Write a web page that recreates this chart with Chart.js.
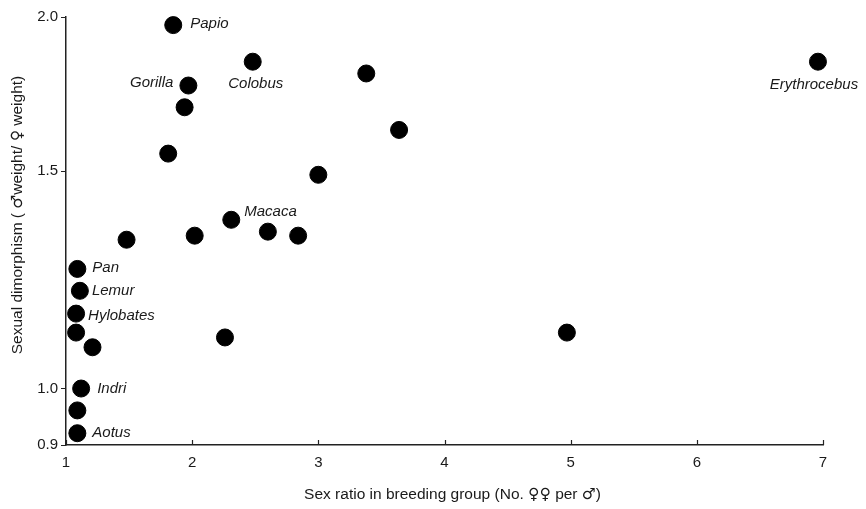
<!DOCTYPE html>
<html>
<head>
<meta charset="utf-8">
<script src="https://cdn.jsdelivr.net/npm/chart.js@4.4.1/dist/chart.umd.min.js"></script>
<style>
  html, body { margin: 0; padding: 0; background: #fff; }
  #wrap { width: 866px; height: 509px; }
</style>
</head>
<body>
<div id="wrap"><canvas id="chart"></canvas></div>
<script>
// one entry per genus / population, '' where the figure prints no name
const genus = ["Papio", "Colobus", "Gorilla", "", "", "", "", "", "Erythrocebus",
  "Macaca", "", "", "", "", "Pan", "Lemur", "Hylobates", "", "", "", "", "Indri", "", "Aotus"];
const sexRatio = [1.85, 2.48, 1.97, 1.94, 1.81, 3.38, 3.64, 3.00, 6.96,
  2.31, 2.60, 2.84, 2.02, 1.48, 1.09, 1.11, 1.08, 1.08, 1.21, 2.26, 4.97, 1.12, 1.09, 1.09];
const dimorphism = [1.97, 1.84, 1.76, 1.69, 1.55, 1.80, 1.62, 1.49, 1.84,
  1.37, 1.34, 1.33, 1.33, 1.32, 1.25, 1.20, 1.15, 1.11, 1.08, 1.10, 1.11, 1.00, 0.96, 0.92];

const xTicks = [1, 2, 3, 4, 5, 6, 7];
const yTicks = [0.9, 1.0, 1.5, 2.0];

const FONT = '"Liberation Sans", Arial, Helvetica, sans-serif';
const SYM = '"DejaVu Sans", sans-serif';
const TEXT = "#1a1a1a";

// axis titles, split so the sex symbols can come from a font that draws them full size
const xTitle = [["Sex ratio in breeding group (No. ", FONT], ["\u2640\u2640", SYM], [" per ", FONT], ["\u2642", SYM], [")", FONT]];
const yTitle = [["Sexual dimorphism ( ", FONT], ["\u2642", SYM], ["weight/ ", FONT], ["\u2640", SYM], [" weight)", FONT]];

// where each name sits relative to its dot
const placement = {
  Papio:        { align: "left",   dx: 17,  dy: -1 },
  Colobus:      { align: "center", dx: 3,   dy: 22 },
  Gorilla:      { align: "right",  dx: -15, dy: -3 },
  Erythrocebus: { align: "center", dx: -4,  dy: 23 },
  Macaca:       { align: "left",   dx: 13,  dy: -8 },
  Pan:          { align: "left",   dx: 15,  dy: -1 },
  Lemur:        { align: "left",   dx: 12,  dy: 0 },
  Hylobates:    { align: "left",   dx: 12,  dy: 2 },
  Indri:        { align: "left",   dx: 16,  dy: 0 },
  Aotus:        { align: "left",   dx: 15,  dy: 0 }
};

const genusLabels = {
  id: "genusLabels",
  afterDatasetsDraw(chart) {
    const ctx = chart.ctx;
    const meta = chart.getDatasetMeta(0);
    ctx.save();
    ctx.font = "italic 15px " + FONT;
    ctx.fillStyle = TEXT;
    ctx.textBaseline = "middle";
    meta.data.forEach((pt, i) => {
      const name = genus[i];
      if (!name) return;
      const p = placement[name];
      ctx.textAlign = p.align;
      ctx.fillText(name, pt.x + p.dx, pt.y + p.dy);
    });
    ctx.restore();
  }
};

function drawParts(ctx, parts, size, cx, cy) {
  let total = 0;
  parts.forEach(([t, f]) => { ctx.font = size + "px " + f; total += ctx.measureText(t).width; });
  let x = cx - total / 2;
  parts.forEach(([t, f]) => {
    ctx.font = size + "px " + f;
    ctx.fillText(t, x, cy);
    x += ctx.measureText(t).width;
  });
}

const axisTitles = {
  id: "axisTitles",
  afterDraw(chart) {
    const ctx = chart.ctx;
    const area = chart.chartArea;
    ctx.save();
    ctx.fillStyle = TEXT;
    ctx.textAlign = "left";
    ctx.textBaseline = "middle";
    drawParts(ctx, xTitle, 15.5, (area.left + area.right) / 2 + 8, 495);
    ctx.translate(18, (area.top + area.bottom) / 2 - 16);
    ctx.rotate(-Math.PI / 2);
    drawParts(ctx, yTitle, 15.5, 0, 0);
    ctx.restore();
  }
};

// x tick marks point up into the plot
const innerTicks = {
  id: "innerTicks",
  afterDraw(chart) {
    const x = chart.scales.x;
    const ctx = chart.ctx;
    ctx.save();
    ctx.strokeStyle = "#222";
    ctx.lineWidth = 1.2;
    x.ticks.forEach(t => {
      const px = Math.round(x.getPixelForValue(t.value)) + 0.5;
      ctx.beginPath();
      ctx.moveTo(px, x.top);
      ctx.lineTo(px, x.top - 5);
      ctx.stroke();
    });
    ctx.restore();
  }
};

new Chart(document.getElementById("chart"), {
  type: "scatter",
  data: {
    datasets: [{
      data: sexRatio.map((v, i) => ({ x: v, y: dimorphism[i] })),
      backgroundColor: "#000",
      borderColor: "#000",
      pointRadius: 8.5,
      pointHoverRadius: 8.5,
      clip: false
    }]
  },
  options: {
    responsive: true,
    maintainAspectRatio: false,
    animation: false,
    layout: { padding: { left: 0, top: 17, right: 43, bottom: 0 } },
    plugins: {
      legend: { display: false },
      tooltip: { enabled: false }
    },
    scales: {
      x: {
        type: "linear",
        min: 1,
        max: 7,
        afterBuildTicks: s => { s.ticks = xTicks.map(v => ({ value: v })); },
        afterFit: s => { s.height = 64; },
        border: { display: true, color: "#222", width: 1.5 },
        grid: { display: true, drawOnChartArea: false, drawTicks: false },
        ticks: {
          padding: 9,
          color: TEXT,
          font: { family: FONT, size: 15 },
          callback: v => String(v)
        }
      },
      y: {
        type: "logarithmic",
        min: 0.9,
        max: 2.0,
        afterBuildTicks: s => { s.ticks = yTicks.map(v => ({ value: v })); },
        afterFit: s => { s.width = 66; },
        border: { display: true, color: "#222", width: 1.5 },
        grid: { display: true, drawOnChartArea: false, drawTicks: true, tickLength: 5, color: "#222" },
        ticks: {
          padding: 3,
          color: TEXT,
          font: { family: FONT, size: 15 },
          callback: v => Number(v).toFixed(1)
        }
      }
    }
  },
  plugins: [genusLabels, axisTitles, innerTicks]
});
</script>
</body>
</html>
